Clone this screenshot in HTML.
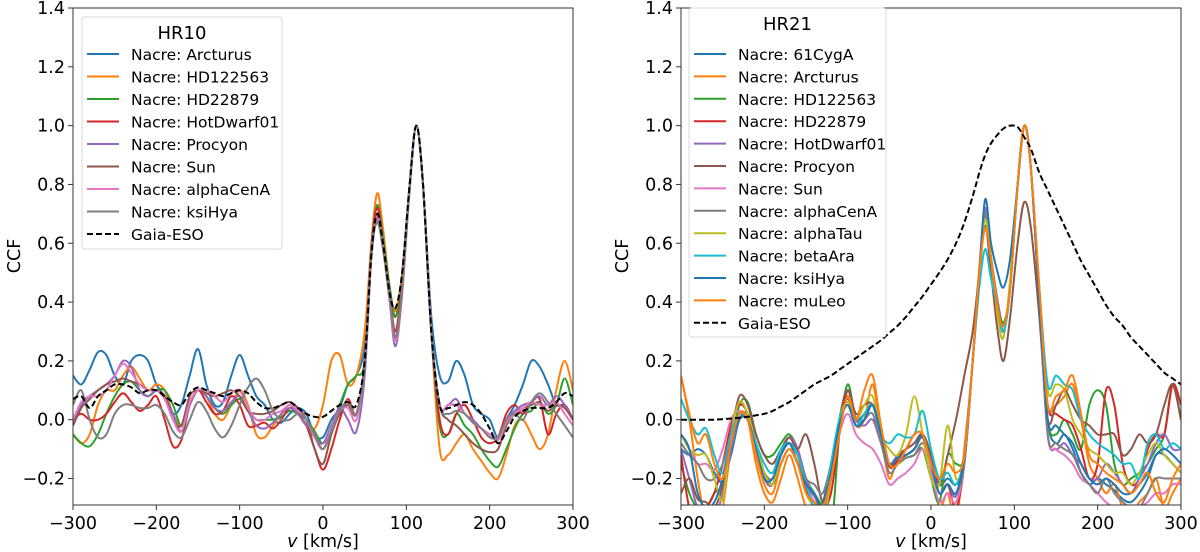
<!DOCTYPE html>
<html><head><meta charset="utf-8"><style>
body{margin:0;background:#fff;}
svg{display:block;font-family:"DejaVu Sans","Liberation Sans",sans-serif;}
</style></head><body>
<svg id="chart" width="1200" height="552" viewBox="0 0 1200 552" xmlns="http://www.w3.org/2000/svg"></svg>
<script>
// ---- shared velocity grid ----
const vel = [-300,-290,-280,-270,-260,-250,-240,-230,-220,-210,-200,-190,-180,-170,-160,-150,-140,-130,-120,-110,-100,-90,-80,-70,-60,-50,-40,-30,-20,-10,0,10,20,30,40,50,
 58,65,72,80,87,95,104,112,120,130,
 140,150,160,170,180,190,200,210,220,230,240,250,260,270,280,290,300];
const xTicks = [-300,-200,-100,0,100,200,300];
const yTicks = [-0.2,0.0,0.2,0.4,0.6,0.8,1.0,1.2,1.4];
const yTickLabels = ["\u22120.2","0.0","0.2","0.4","0.6","0.8","1.0","1.2","1.4"];
const xTickLabels = ["\u2212300","\u2212200","\u2212100","0","100","200","300"];

// ---- HR10 series ----
const hr10Names = ["Nacre: Arcturus","Nacre: HD122563","Nacre: HD22879","Nacre: HotDwarf01","Nacre: Procyon","Nacre: Sun","Nacre: alphaCenA","Nacre: ksiHya","Gaia-ESO"];
const hr10Arcturus = [0.15,0.12,0.17,0.23,0.22,0.15,0.12,0.2,0.22,0.2,0.12,0.08,0.02,0.05,0.15,0.24,0.12,0.05,0.06,0.15,0.22,0.15,0.08,0.05,0.0,-0.01,0.02,0.04,0.02,-0.05,-0.06,0.0,0.04,0.12,0.15,0.25, 0.55,0.70,0.62,0.45,0.35,0.5,0.8,1.0,0.8,0.35, 0.15,0.13,0.2,0.15,0.05,0.02,0.0,-0.06,0.0,0.05,0.12,0.2,0.18,0.12,0.05,0.05,0.0];
const hr10HD122563 = [-0.05,-0.08,-0.05,0.05,0.1,0.1,0.15,0.18,0.14,0.1,0.12,0.1,0.02,-0.02,0.05,0.1,0.08,0.02,0.0,0.05,0.1,0.05,-0.05,-0.06,-0.02,0.02,0.05,0.02,-0.02,-0.03,0.05,0.2,0.22,0.12,0.15,0.3, 0.6,0.77,0.65,0.45,0.37,0.5,0.8,1.0,0.8,0.3, -0.1,-0.12,-0.08,-0.05,-0.1,-0.14,-0.18,-0.2,-0.12,-0.02,0.0,-0.05,-0.1,-0.05,0.1,0.2,0.1];
const hr10HD22879 = [-0.05,-0.08,-0.09,-0.05,0.02,0.08,0.12,0.13,0.1,0.08,0.1,0.1,0.05,-0.02,0.05,0.1,0.08,0.04,0.02,0.05,0.07,0.03,0.0,0.0,0.0,0.01,0.03,0.02,0.0,-0.04,-0.08,-0.02,0.05,0.12,0.15,0.2, 0.58,0.73,0.62,0.45,0.35,0.48,0.8,1.0,0.8,0.3, -0.02,-0.05,0.02,-0.02,-0.05,-0.1,-0.14,-0.16,-0.1,-0.03,0.02,0.03,0.06,0.02,0.05,0.14,0.05];
const hr10HotDwarf01 = [0.0,0.02,0.0,0.0,0.02,0.06,0.09,0.06,0.03,0.05,0.08,0.0,-0.09,-0.07,0.05,0.1,0.06,0.02,0.03,0.08,0.05,-0.02,-0.02,-0.01,-0.03,0.0,0.04,0.02,-0.02,-0.1,-0.17,-0.1,0.0,0.07,0.02,0.2, 0.58,0.72,0.6,0.43,0.3,0.47,0.8,1.0,0.8,0.3, 0.0,-0.05,0.02,0.05,0.0,-0.06,-0.08,-0.06,0.02,0.05,0.02,0.06,0.07,-0.05,0.02,0.05,0.0];
const hr10Procyon = [-0.02,0.05,0.08,0.1,0.12,0.15,0.2,0.18,0.1,0.08,0.1,0.08,0.02,-0.04,0.05,0.1,0.08,0.04,0.03,0.06,0.08,0.03,-0.02,-0.03,-0.01,0.02,0.04,0.02,-0.02,-0.06,-0.08,-0.02,0.04,0.0,-0.04,0.15, 0.55,0.68,0.58,0.4,0.25,0.43,0.78,1.0,0.8,0.3, 0.05,0.05,0.07,0.02,0.0,-0.03,-0.05,-0.06,0.0,0.03,0.05,0.06,0.08,0.05,0.08,0.05,0.0];
const hr10Sun = [-0.02,0.04,0.07,0.1,0.12,0.13,0.14,0.13,0.12,0.1,0.1,0.08,0.0,-0.02,0.08,0.1,0.09,0.08,0.09,0.1,0.08,0.03,0.02,0.02,0.03,0.05,0.06,0.04,0.0,-0.1,-0.15,-0.05,0.02,0.05,0.02,0.2, 0.57,0.7,0.6,0.42,0.28,0.45,0.8,1.0,0.8,0.3, 0.05,0.0,-0.02,-0.05,-0.08,-0.1,-0.11,-0.1,-0.02,0.02,0.04,0.05,0.06,0.03,0.05,0.04,0.0];
const hr10AlphaCenA = [0.0,0.06,0.08,0.08,0.1,0.15,0.19,0.16,0.12,0.1,0.1,0.07,0.0,-0.04,0.06,0.1,0.1,0.08,0.06,0.09,0.1,0.04,0.0,0.0,0.02,0.03,0.05,0.03,0.0,-0.06,-0.1,-0.03,0.03,0.04,0.0,0.18, 0.56,0.69,0.59,0.41,0.27,0.44,0.8,1.0,0.8,0.3, 0.05,0.05,0.05,0.02,-0.01,-0.03,-0.05,-0.07,-0.01,0.02,0.04,0.06,0.05,0.05,0.06,0.02,-0.02];
const hr10KsiHya = [0.05,0.1,0.0,-0.06,-0.05,0.02,0.05,0.05,0.04,0.04,0.05,0.02,-0.04,-0.06,0.0,0.06,0.03,-0.03,-0.06,-0.02,0.05,0.11,0.14,0.1,0.03,0.0,0.0,0.02,0.0,-0.05,-0.1,-0.04,0.03,0.06,0.02,0.18, 0.56,0.67,0.58,0.42,0.28,0.44,0.8,1.0,0.8,0.3, 0.05,0.02,0.03,0.02,-0.01,-0.03,-0.06,-0.06,0.0,0.02,0.0,0.06,0.09,0.06,0.02,-0.02,-0.06];
const hr10Gaia = [0.07,0.08,0.04,0.08,0.1,0.12,0.12,0.11,0.09,0.1,0.1,0.08,0.06,0.05,0.09,0.11,0.1,0.09,0.08,0.09,0.1,0.09,0.06,0.04,0.04,0.05,0.06,0.04,0.02,0.01,0.01,0.03,0.05,0.06,0.05,0.2, 0.56,0.7,0.6,0.43,0.38,0.5,0.8,1.0,0.8,0.3, 0.05,0.04,0.05,0.06,0.05,0.02,-0.03,-0.08,-0.04,0.01,0.03,0.04,0.04,0.04,0.06,0.09,0.08];

// ---- HR21 series ----
const hr21Names = ["Nacre: 61CygA","Nacre: Arcturus","Nacre: HD122563","Nacre: HD22879","Nacre: HotDwarf01","Nacre: Procyon","Nacre: Sun","Nacre: alphaCenA","Nacre: alphaTau","Nacre: betaAra","Nacre: ksiHya","Nacre: muLeo","Gaia-ESO"];
const hr21CygA = [-0.1,-0.12,-0.1,-0.12,-0.18,-0.21,-0.12,0.0,0.02,-0.08,-0.18,-0.22,-0.15,-0.1,-0.15,-0.22,-0.26,-0.28,-0.15,0.0,0.07,0.0,0.02,0.05,-0.05,-0.15,-0.13,-0.12,-0.1,-0.05,-0.12,-0.22,-0.2,-0.22,-0.15,0.2, 0.5,0.7,0.55,0.4,0.32,0.45,0.8,1.0,0.85,0.4, 0.0,-0.08,-0.05,-0.1,-0.18,-0.22,-0.2,-0.22,-0.24,-0.27,-0.28,-0.25,-0.2,-0.12,-0.12,-0.15,-0.18];
const hr21Arcturus = [0.15,0.0,-0.2,-0.35,-0.4,-0.3,-0.1,0.02,0.0,-0.15,-0.25,-0.28,-0.2,-0.12,-0.2,-0.3,-0.35,-0.4,-0.2,0.0,0.08,-0.02,0.0,0.12,-0.05,-0.2,-0.12,-0.1,-0.05,-0.05,-0.15,-0.3,-0.25,-0.35,-0.1,0.2, 0.52,0.7,0.55,0.38,0.3,0.45,0.8,1.0,0.85,0.4, 0.05,0.05,0.08,0.12,0.0,-0.15,-0.2,-0.25,-0.22,-0.3,-0.32,-0.28,-0.25,-0.2,-0.3,-0.25,-0.2];
const hr21HD122563 = [-0.15,-0.25,-0.3,-0.3,-0.25,-0.22,-0.1,0.05,0.06,-0.05,-0.12,-0.12,-0.08,-0.05,-0.1,-0.2,-0.25,-0.3,-0.38,-0.05,0.12,0.0,0.0,0.05,-0.05,-0.15,-0.15,-0.13,-0.12,-0.1,-0.2,-0.28,-0.12,-0.15,-0.12,0.2, 0.5,0.7,0.55,0.4,0.33,0.45,0.8,1.0,0.85,0.4, 0.0,-0.05,0.0,-0.05,-0.1,0.05,0.1,0.05,-0.15,-0.22,-0.2,-0.18,-0.15,-0.1,-0.05,0.12,0.0];
const hr21HD22879 = [-0.12,-0.3,-0.32,-0.3,-0.25,-0.15,-0.02,0.05,0.02,-0.1,-0.2,-0.22,-0.12,-0.06,-0.12,-0.24,-0.28,-0.3,-0.25,-0.05,0.1,0.0,0.0,0.05,-0.05,-0.16,-0.14,-0.12,-0.1,-0.06,-0.15,-0.25,-0.22,-0.3,-0.15,0.2, 0.5,0.72,0.55,0.4,0.3,0.45,0.8,1.0,0.85,0.4, 0.05,0.02,0.0,-0.02,-0.1,-0.2,-0.15,0.1,0.05,-0.15,-0.22,-0.2,-0.1,-0.05,-0.05,0.12,0.05];
const hr21HotDwarf01 = [-0.1,-0.2,-0.3,-0.32,-0.33,-0.25,-0.1,0.0,0.0,-0.1,-0.2,-0.22,-0.12,-0.06,-0.1,-0.2,-0.26,-0.3,-0.2,0.0,0.1,0.0,-0.02,0.0,-0.08,-0.15,-0.12,-0.1,-0.08,-0.05,-0.15,-0.25,-0.22,-0.26,-0.12,0.2, 0.5,0.72,0.55,0.4,0.3,0.45,0.8,1.0,0.85,0.4, -0.05,-0.1,-0.08,-0.12,-0.15,-0.2,-0.2,-0.15,-0.18,-0.22,-0.25,-0.2,-0.15,-0.08,-0.05,-0.1,-0.1];
const hr21Procyon = [-0.25,-0.2,-0.27,-0.28,-0.3,-0.22,-0.05,0.08,0.05,-0.05,-0.12,-0.15,-0.1,-0.06,-0.1,-0.05,-0.15,-0.28,-0.2,0.0,0.1,0.02,0.05,0.05,-0.05,-0.15,-0.13,-0.1,-0.08,-0.05,-0.12,-0.22,-0.12,0.0,0.15,0.3, 0.5,0.66,0.5,0.3,0.2,0.35,0.6,0.74,0.65,0.35, 0.0,0.05,0.1,0.05,0.0,-0.02,-0.05,-0.05,-0.05,-0.12,-0.1,-0.05,-0.08,-0.05,0.05,0.12,0.0];
const hr21Sun = [-0.05,-0.1,-0.15,-0.15,-0.17,-0.1,0.0,0.03,0.0,-0.1,-0.18,-0.2,-0.12,-0.08,-0.12,-0.22,-0.28,-0.3,-0.2,-0.05,0.02,-0.05,-0.08,-0.1,-0.15,-0.22,-0.2,-0.18,-0.15,-0.1,-0.18,-0.28,-0.25,-0.28,-0.15,0.2, 0.5,0.7,0.55,0.38,0.3,0.45,0.8,1.0,0.85,0.4, -0.05,-0.1,-0.12,-0.15,-0.2,-0.22,-0.25,-0.28,-0.3,-0.3,-0.32,-0.3,-0.28,-0.25,-0.25,-0.22,-0.22];
const hr21AlphaCenA = [-0.08,-0.12,-0.15,-0.2,-0.2,-0.15,-0.05,0.02,0.0,-0.1,-0.18,-0.2,-0.12,-0.08,-0.12,-0.2,-0.22,-0.25,-0.15,0.0,0.05,-0.02,0.0,0.02,-0.08,-0.18,-0.15,-0.13,-0.12,-0.08,-0.15,-0.25,-0.22,-0.25,-0.15,0.2, 0.5,0.7,0.55,0.4,0.3,0.45,0.8,1.0,0.85,0.4, -0.05,-0.08,-0.1,-0.12,-0.18,-0.22,-0.25,-0.2,-0.25,-0.28,-0.3,-0.3,-0.25,-0.2,-0.2,-0.2,-0.2];
const hr21AlphaTau = [-0.05,-0.1,-0.12,-0.12,-0.2,-0.27,-0.05,0.06,0.02,-0.08,-0.18,-0.22,-0.12,-0.08,-0.15,-0.25,-0.3,-0.35,-0.2,0.0,0.06,0.0,0.05,0.08,-0.05,-0.1,-0.12,-0.05,0.08,-0.05,-0.2,-0.22,-0.02,-0.2,-0.12,0.2, 0.5,0.68,0.55,0.35,0.28,0.48,0.8,1.0,0.85,0.45, 0.1,0.12,0.1,0.0,-0.05,-0.1,-0.12,-0.15,-0.18,-0.18,-0.22,-0.18,-0.12,-0.08,-0.12,-0.15,-0.18];
const hr21BetaAra = [0.07,0.0,-0.05,-0.03,-0.12,-0.18,-0.05,0.02,0.0,-0.08,-0.15,-0.18,-0.1,-0.08,-0.12,-0.22,-0.3,-0.33,-0.15,0.0,0.05,-0.02,0.02,0.05,-0.05,-0.08,-0.05,-0.06,-0.05,0.03,-0.1,-0.2,-0.18,-0.22,-0.12,0.2, 0.45,0.58,0.48,0.38,0.3,0.45,0.8,1.0,0.85,0.45, 0.12,0.15,0.12,0.1,0.0,-0.05,-0.08,-0.1,-0.12,-0.15,-0.15,-0.2,-0.08,-0.05,-0.1,-0.08,-0.1];
const hr21KsiHya = [-0.05,-0.1,-0.25,-0.3,-0.28,-0.2,-0.08,0.0,0.0,-0.1,-0.2,-0.2,-0.12,-0.08,-0.15,-0.22,-0.25,-0.3,-0.18,-0.02,0.05,-0.02,0.0,0.05,-0.05,-0.15,-0.13,-0.12,-0.1,-0.06,-0.15,-0.25,-0.22,-0.25,-0.12,0.2, 0.5,0.75,0.6,0.5,0.45,0.55,0.8,1.0,0.85,0.4, 0.0,-0.02,-0.05,-0.08,-0.15,-0.2,-0.22,-0.2,-0.22,-0.25,-0.25,-0.22,-0.18,-0.12,-0.1,-0.12,-0.15];
const hr21MuLeo = [0.15,0.02,-0.08,-0.05,-0.15,-0.2,-0.08,0.02,0.0,-0.12,-0.22,-0.25,-0.15,-0.1,-0.15,-0.25,-0.28,-0.3,-0.2,-0.05,0.08,0.0,0.1,0.15,-0.02,-0.15,-0.15,-0.1,-0.05,-0.05,-0.15,-0.2,-0.15,-0.18,-0.12,0.2, 0.5,0.65,0.55,0.38,0.32,0.45,0.8,1.0,0.85,0.45, 0.05,0.08,0.1,0.15,0.02,-0.12,-0.15,-0.18,-0.2,-0.22,-0.25,-0.22,-0.18,-0.25,-0.28,-0.2,-0.15];
const hr21Gaia = [0.0,0.0,0.0,0.0,0.0,0.002,0.004,0.007,0.01,0.015,0.02,0.03,0.045,0.06,0.08,0.1,0.12,0.135,0.15,0.17,0.19,0.21,0.23,0.25,0.27,0.295,0.32,0.35,0.385,0.42,0.46,0.5,0.545,0.6,0.67,0.76, 0.84,0.9,0.94,0.97,0.99,1.0,0.995,0.96,0.92,0.84, 0.78,0.72,0.66,0.6,0.54,0.49,0.44,0.39,0.35,0.32,0.28,0.25,0.22,0.19,0.16,0.14,0.12];

const hr10Series = [hr10Arcturus,hr10HD122563,hr10HD22879,hr10HotDwarf01,hr10Procyon,hr10Sun,hr10AlphaCenA,hr10KsiHya,hr10Gaia];
const hr21Series = [hr21CygA,hr21Arcturus,hr21HD122563,hr21HD22879,hr21HotDwarf01,hr21Procyon,hr21Sun,hr21AlphaCenA,hr21AlphaTau,hr21BetaAra,hr21KsiHya,hr21MuLeo,hr21Gaia];
const tab = ["#1f77b4","#ff7f0e","#2ca02c","#d62728","#9467bd","#8c564b","#e377c2","#7f7f7f","#bcbd22","#17becf"];

const NS="http://www.w3.org/2000/svg";
const svg=document.getElementById('chart');
function mk(tag,attrs,parent){const e=document.createElementNS(NS,tag);for(const k in attrs)e.setAttribute(k,attrs[k]);(parent||svg).appendChild(e);return e;}

const TOP=8,BOT=505,YMIN=-0.29,YMAX=1.4;
function yScale(v){return BOT-(v-YMIN)/(YMAX-YMIN)*(BOT-TOP);}

function smoothPath(pts){
  let d="M"+pts[0][0].toFixed(1)+","+pts[0][1].toFixed(1);
  for(let i=0;i<pts.length-1;i++){
    const p0=pts[Math.max(0,i-1)],p1=pts[i],p2=pts[i+1],p3=pts[Math.min(pts.length-1,i+2)];
    const c1x=p1[0]+(p2[0]-p0[0])/6,c1y=p1[1]+(p2[1]-p0[1])/6;
    const c2x=p2[0]-(p3[0]-p1[0])/6,c2y=p2[1]-(p3[1]-p1[1])/6;
    d+=" C"+c1x.toFixed(1)+","+c1y.toFixed(1)+" "+c2x.toFixed(1)+","+c2y.toFixed(1)+" "+p2[0].toFixed(1)+","+p2[1].toFixed(1);
  }
  return d;
}

function panel(id,L,R,names,series,title,legend){
  const xScale=v=>L+(v+300)/600*(R-L);
  const g=mk('g',{});
  
  
  const defs=mk('defs',{},g);
  const cp=mk('clipPath',{id:id+'-clip'},defs);
  mk('rect',{x:L,y:TOP,width:R-L,height:BOT-TOP},cp);
  const lines=mk('g',{'clip-path':'url(#'+id+'-clip)'},g);
  series.forEach((s,i)=>{
    const gaia=i===series.length-1;
    const pts=vel.map((v,j)=>[xScale(v),yScale(s[j])]);
    const p=mk('path',{d:smoothPath(pts),fill:'none',stroke:gaia?'#000':tab[i%10],'stroke-width':2,'stroke-dasharray':gaia?'6,3':'none','stroke-linejoin':'round'},lines);
    
    
  });
  const fr=mk('rect',{x:L,y:TOP,width:R-L,height:BOT-TOP,fill:'none',stroke:'#333','stroke-width':1},g);
  
  
  xTicks.forEach((t,i)=>{
    const x=xScale(t);
    mk('line',{x1:x,x2:x,y1:BOT,y2:BOT+5,stroke:'#333'},g);
    const tx=mk('text',{x:x,y:BOT+24,'font-size':17.5,'text-anchor':'middle',fill:'#000'},g);
    tx.textContent=xTickLabels[i];
    
    
  });
  yTicks.forEach((t,i)=>{
    const y=yScale(t);
    mk('line',{x1:L-5,x2:L,y1:y,y2:y,stroke:'#333'},g);
    const tx=mk('text',{x:L-8,y:y+6,'font-size':17.5,'text-anchor':'end',fill:'#000'},g);
    tx.textContent=yTickLabels[i];
    
    
  });
  const xl=mk('text',{x:(L+R)/2,y:547,'font-size':17.5,'text-anchor':'middle',fill:'#000'},g);
  xl.innerHTML='<tspan font-style="italic">v</tspan> [km/s]';
  
  
  const yl=mk('text',{x:0,y:0,'font-size':17.5,'text-anchor':'middle',fill:'#000',transform:'translate('+(L-53)+',256) rotate(-90)'},g);
  yl.textContent='CCF';
  
  
  const lg=mk('g',{},g);
  
  
  mk('rect',{x:legend.x,y:legend.y,width:legend.w,height:legend.h,rx:3,fill:'#fff','fill-opacity':0.85,stroke:'#d8d8d8'},lg);
  const tt=mk('text',{x:legend.x+legend.w/2,y:legend.ty,'font-size':18,'text-anchor':'middle',fill:'#000'},lg);
  tt.textContent=title;
  
  
  names.forEach((n,i)=>{
    const gaia=i===names.length-1;
    const y=legend.y0+i*legend.step;
    const e=mk('g',{},lg);
    
    
    mk('line',{x1:legend.x+5,x2:legend.x+37,y1:y,y2:y,stroke:gaia?'#000':tab[i%10],'stroke-width':2,'stroke-dasharray':gaia?'6,3':'none'},e);
    const t=mk('text',{x:legend.x+49,y:y+6,'font-size':15.5,fill:'#000'},e);
    t.textContent=n;
  });
}
panel('hr10',73,573,hr10Names,hr10Series,'HR10',{x:82,y:17,w:200,h:232,ty:39,y0:54,step:22.5});
panel('hr21',681,1181,hr21Names,hr21Series,'HR21',{x:689,y:8,w:197,h:329,ty:30,y0:54,step:22.4});
</script>
</body></html>
